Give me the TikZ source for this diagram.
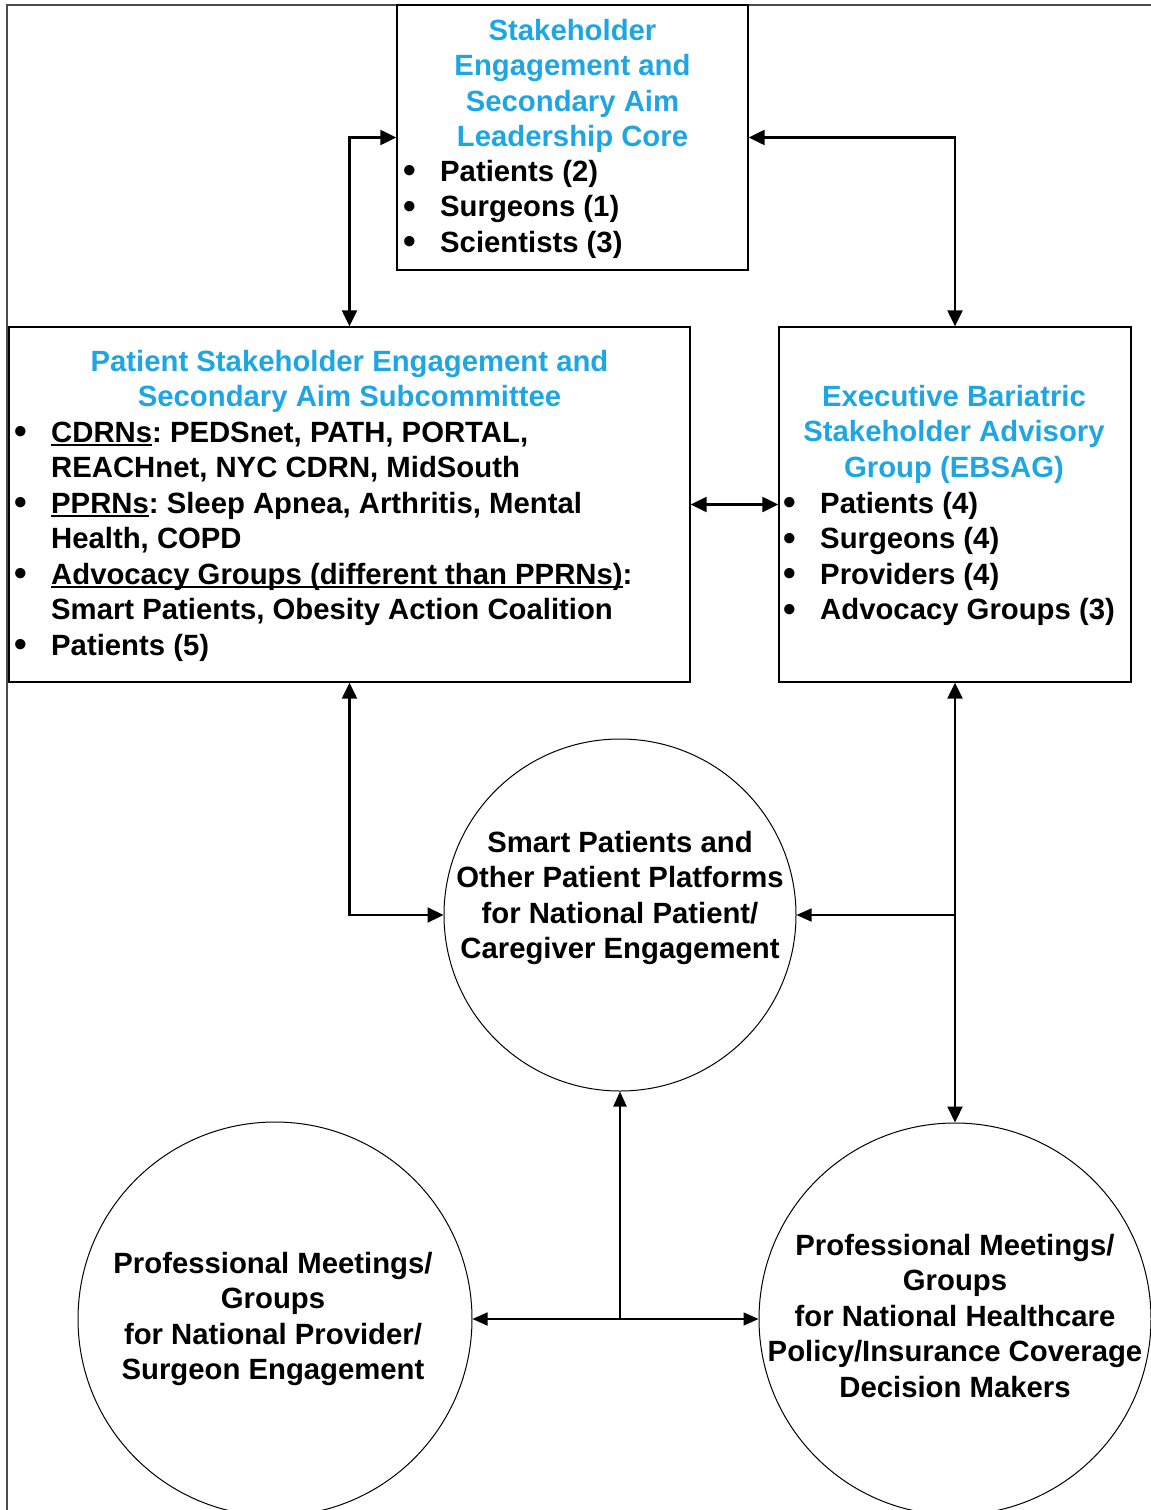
\documentclass[tikz,border=0pt]{standalone}
\usepackage{fontspec}
\setmainfont{Liberation Sans}
\usetikzlibrary{arrows.meta}
\definecolor{titleblue}{RGB}{30,166,228}
\newsavebox\ulbox
\newcommand\myul[1]{\sbox\ulbox{#1}\rlap{\rule[-3.5pt]{\wd\ulbox}{1.8pt}}\usebox\ulbox}
\newcommand\bul{\makebox[37pt][l]{{\fontsize{36}{36}\selectfont\raisebox{-1.5pt}{\textbullet}}}}
\begin{document}
\frenchspacing
\begin{tikzpicture}[x=1pt,y=-1pt,
  font=\fontsize{29.3}{35.5}\selectfont\bfseries\frenchspacing,
  box/.style={draw, line width=1.3pt, inner sep=0},
  circ/.style={draw, circle, line width=1pt, inner sep=0},
  arr/.style={line width=2.2pt, {Triangle[length=16pt,width=15pt]}-{Triangle[length=16pt,width=15pt]}},
  thinarr/.style={line width=1.7pt, {Triangle[length=15pt,width=13pt]}-{Triangle[length=15pt,width=13pt]}},
  one/.style={line width=1.7pt, -{Triangle[length=15pt,width=13pt]}},
  onethick/.style={line width=2.2pt, -{Triangle[length=15pt,width=13pt]}},
  txt/.style={inner sep=0, anchor=base},
  lst/.style={inner sep=0, anchor=base west}]
\useasboundingbox (0,0) rectangle (1151,1510);
\draw[line width=1.3pt, black!70] (7,1515) -- (7,5) -- (1155,5);

% boxes and circles
\node[box, minimum width=351, minimum height=265] (top) at (572.5,137.5) {};
\node[box, minimum width=681, minimum height=355] (lbox) at (349.5,504.5) {};
\node[box, minimum width=352, minimum height=355] (rbox) at (955,504.5) {};
\node[circ, minimum size=352] (mid) at (620,915) {};
\node[circ, minimum size=394] (bl) at (275,1319) {};
\node[circ, minimum size=392] (br) at (955,1319) {};

% texts
\node[txt, text=titleblue] (toptitle) at (572.5,40) {\begin{tabular}[t]{@{}c@{}}Stakeholder\\Engagement and\\Secondary Aim\\Leadership Core\end{tabular}};
\node[lst] (toplist) at (403,181) {\begin{tabular}[t]{@{}l@{}}\bul Patients (2)\\\bul Surgeons (1)\\\bul Scientists (3)\end{tabular}};

\node[txt, text=titleblue] (ltitle) at (349.5,371) {\begin{tabular}[t]{@{}c@{}}Patient Stakeholder Engagement and\\Secondary Aim Subcommittee\end{tabular}};
\node[lst] (llist) at (14,442) {\begin{tabular}[t]{@{}l@{}l@{}}\bul & \myul{CDRNs}: PEDSnet, PATH, PORTAL,\\
 & REACHnet, NYC CDRN, MidSouth\\
\bul & \myul{PPRNs}: Sleep Apnea, Arthritis, Mental\\
 & Health, COPD\\
\bul & \myul{Advocacy Groups (different than PPRNs)}:\\
 & Smart Patients, Obesity Action Coalition\\
\bul & Patients (5)\end{tabular}};

\node[txt, text=titleblue] (rtitle) at (954,406) {\begin{tabular}[t]{@{}c@{}}Executive Bariatric\\Stakeholder Advisory\\Group (EBSAG)\end{tabular}};
\node[lst] (rlist) at (783,513) {\begin{tabular}[t]{@{}l@{}}\bul Patients (4)\\\bul Surgeons (4)\\\bul Providers (4)\\\bul Advocacy Groups (3)\end{tabular}};

\node[txt] (midtext) at (620,852) {\begin{tabular}[t]{@{}c@{}}Smart Patients and\\Other Patient Platforms\\for National Patient/\\Caregiver Engagement\end{tabular}};
\node[txt] (bltext) at (273,1273) {\begin{tabular}[t]{@{}c@{}}Professional Meetings/\\Groups\\for National Provider/\\Surgeon Engagement\end{tabular}};
\node[txt] (brtext) at (955,1255) {\begin{tabular}[t]{@{}c@{}}Professional Meetings/\\Groups\\for National Healthcare\\Policy/Insurance Coverage\\Decision Makers\end{tabular}};

% connectors
\draw[arr] (lbox.north) |- (top.west);
\draw[arr] (top.east) -| (rbox.north);
\draw[arr] (lbox.east) -- (rbox.west);
\draw[arr] (lbox.south) |- (mid.west);
\draw[arr] (rbox.south) -- (br.north);
\coordinate (j1) at (rbox.south |- mid.east);
\draw[one] (j1) -- (mid.east);
\draw[thinarr] (bl.east) -- (br.west);
\coordinate (j2) at (mid.south |- bl.east);
\draw[onethick] (j2) -- (mid.south);
\end{tikzpicture}
\end{document}
